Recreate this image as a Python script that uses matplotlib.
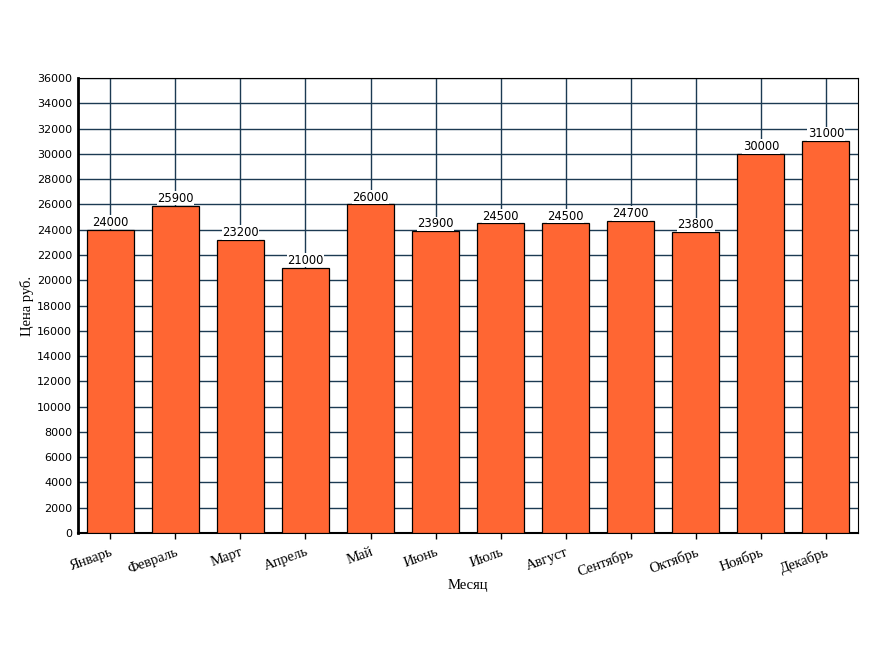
import matplotlib
matplotlib.use("Agg")
import matplotlib.pyplot as plt

# ── data ────────────────────────────────────────────────────────────────
months = ["Январь", "Февраль", "Март", "Апрель", "Май", "Июнь",
          "Июль", "Август", "Сентябрь", "Октябрь", "Ноябрь", "Декабрь"]
prices = [24000, 25900, 23200, 21000, 26000, 23900,
          24500, 24500, 24700, 23800, 30000, 31000]
y_ticks = list(range(0, 36001, 2000))

_BAR = "#FF6633"
_GRID = "#1C3A52"

fig = plt.figure(figsize=(8.84, 6.5), dpi=100, facecolor="white")
ax = fig.add_axes([0.088, 0.18, 0.883, 0.70])

x = range(len(months))
bars = ax.bar(x, prices, width=0.72, color=_BAR, edgecolor="black",
              linewidth=0.9, zorder=3)

for b, v in zip(bars, prices):
    ax.text(b.get_x() + b.get_width() / 2, v + 60, f"{v}",
            ha="center", va="bottom", fontsize=8.3, family="DejaVu Sans",
            bbox=dict(boxstyle="square,pad=0.05", fc="white", ec="none"),
            zorder=4)

ax.set_xlim(-0.5, len(months) - 0.5)
ax.set_ylim(0, 36000)
ax.set_yticks(y_ticks)
ax.tick_params(axis="y", labelsize=8, length=0, pad=4)
ax.set_xticks(list(x))
ax.set_xticklabels(months, rotation=20, ha="right", rotation_mode="anchor",
                   family="Liberation Serif", fontsize=10.5)
ax.tick_params(axis="x", length=4, width=1, direction="out", pad=5)

ax.grid(True, color=_GRID, linewidth=1.0, zorder=0)
ax.set_axisbelow(True)

for side in ("top", "right"):
    ax.spines[side].set_linewidth(0.8)
ax.spines["left"].set_linewidth(2.0)
ax.spines["bottom"].set_linewidth(1.5)

ax.set_xlabel("Месяц", family="Liberation Serif", fontsize=10.5, labelpad=0)
ax.set_ylabel("Цена руб.", family="Liberation Serif", fontsize=10.5, labelpad=2)

fig.savefig("out.png", dpi=100, facecolor="white")
